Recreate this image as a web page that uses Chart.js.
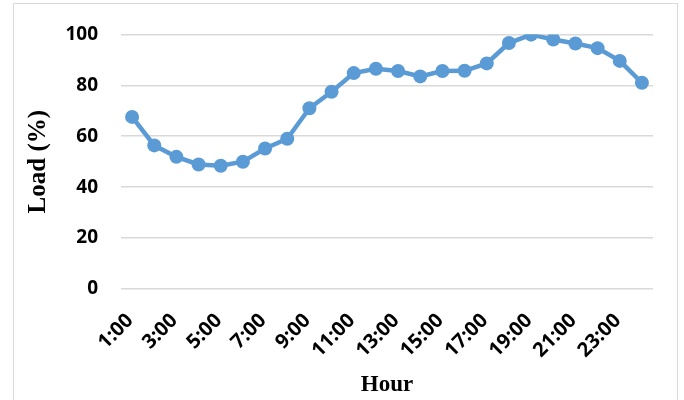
<!DOCTYPE html>
<html>
<head>
<meta charset="utf-8">
<script src="https://cdn.jsdelivr.net/npm/chart.js@4.4.1/dist/chart.umd.min.js"></script>
<style>
  html, body { margin: 0; padding: 0; background: #ffffff; }
  #wrap { position: relative; width: 684px; height: 400px; }
  #frame { position: absolute; left: 13px; top: 3px; width: 665px; height: 410px; border: 1px solid #d9d9d9; box-sizing: border-box; pointer-events: none; }
  canvas { position: absolute; left: 0; top: 0; }
</style>
</head>
<body>
<div id="wrap">
  <canvas id="chart" width="684" height="400"></canvas>
  <div id="frame"></div>
</div>
<script>
// Hourly load profile, percent of daily peak
const hours = ['1:00','2:00','3:00','4:00','5:00','6:00','7:00','8:00','9:00','10:00','11:00','12:00',
               '13:00','14:00','15:00','16:00','17:00','18:00','19:00','20:00','21:00','22:00','23:00','24:00'];
const loadPct = [67.6, 56.4, 51.9, 48.9, 48.4, 50.0, 55.2, 59.0, 71.0, 77.5, 84.8, 86.5,
                 85.6, 83.5, 85.6, 85.7, 88.6, 96.6, 99.9, 98.0, 96.4, 94.6, 89.6, 81.0];
const yTicks = [0, 20, 40, 60, 80, 100];

const lineBlue = '#5b9bd5';

new Chart(document.getElementById('chart'), {
  type: 'line',
  data: {
    labels: hours,
    datasets: [{
      data: loadPct,
      borderColor: lineBlue,
      backgroundColor: lineBlue,
      borderWidth: 4.5,
      pointRadius: 7,
      pointHoverRadius: 7,
      pointBorderWidth: 0,
      tension: 0
    }]
  },
  options: {
    responsive: false,
    animation: false,
    layout: { padding: { left: 20, right: 31, top: 34, bottom: 0 } },
    plugins: { legend: { display: false }, tooltip: { enabled: false } },
    scales: {
      x: {
        offset: true,
        grid: { display: false, drawTicks: false },
        border: { display: false },
        ticks: {
          autoSkip: false,
          minRotation: 45,
          maxRotation: 45,
          padding: 20,
          labelOffset: -2,
          color: '#000000',
          font: { family: 'Open Sans', weight: 'bold', size: 20 },
          callback: (v, i) => (i % 2 === 0 ? hours[i] : '')
        },
        title: {
          display: true,
          text: 'Hour',
          color: '#000000',
          font: { family: 'Liberation Serif', weight: 'bold', size: 23 },
          padding: { top: 0, bottom: 1 }
        },
        afterFit: s => { s.height = 111; }
      },
      y: {
        min: 0,
        max: 100,
        afterBuildTicks: s => { s.ticks = yTicks.map(v => ({ value: v })); },
        grid: { color: '#d9d9d9', lineWidth: 1.5, drawTicks: false },
        border: { display: false },
        ticks: {
          padding: 23,
          color: '#000000',
          font: { family: 'Open Sans', weight: 'bold', size: 19 }
        },
        title: {
          display: true,
          text: 'Load (%)',
          color: '#000000',
          font: { family: 'Liberation Serif', weight: 'bold', size: 25 },
          padding: { top: 4, bottom: 0 }
        },
        afterFit: s => { s.width = 101; }
      }
    }
  }
});
</script>
</body>
</html>
